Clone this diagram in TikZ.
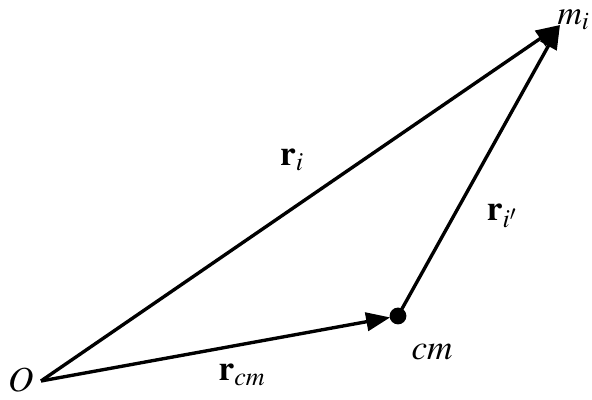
\documentclass[tikz,border=0pt]{standalone}
\usepackage{amsmath}
\usepackage{mathptmx}
\usepackage{tikz}
\usetikzlibrary{arrows.meta,positioning}

\begin{document}
\begin{tikzpicture}[scale=1,
    vec/.style={line width=2.4pt,arrows = {-Triangle[length=6mm,width=4.6mm]}},
    lbl/.style={font=\fontsize{25}{30}\selectfont,inner sep=1pt}]
                \useasboundingbox (0,0) rectangle (14.8,10);
                \coordinate (O) at (1.025,0.475);
                \coordinate (mi) at (14.0,9.375);
                \node[circle,fill=black,inner sep=0pt,minimum size=4.2mm] (cm) at (9.95,2.1) {};

                \draw[vec] (O) -- (mi);
                \draw[vec,shorten >=-0.5pt] (O) -- (cm);
                \draw[vec] (cm.center) -- (mi);

                \node[lbl,font=\fontsize{24}{28}\selectfont] (milbl) at (14.34,9.5) {$m_i$};
                \node[lbl] (Olbl) at (0.52,0.5) {$O$};
                \node[lbl] (cmlbl) at (10.8,1.2) {$cm$};
                \node[lbl] (rilbl) at (7.3,6.0) {$\mathbf{r}_i$};
                \node[lbl] (riplbl) at (12.55,4.6) {$\mathbf{r}_{i'}$};
                \node[lbl] (rcmlbl) at (6.05,0.62) {$\mathbf{r}_{cm}$};
\end{tikzpicture}
\end{document}
